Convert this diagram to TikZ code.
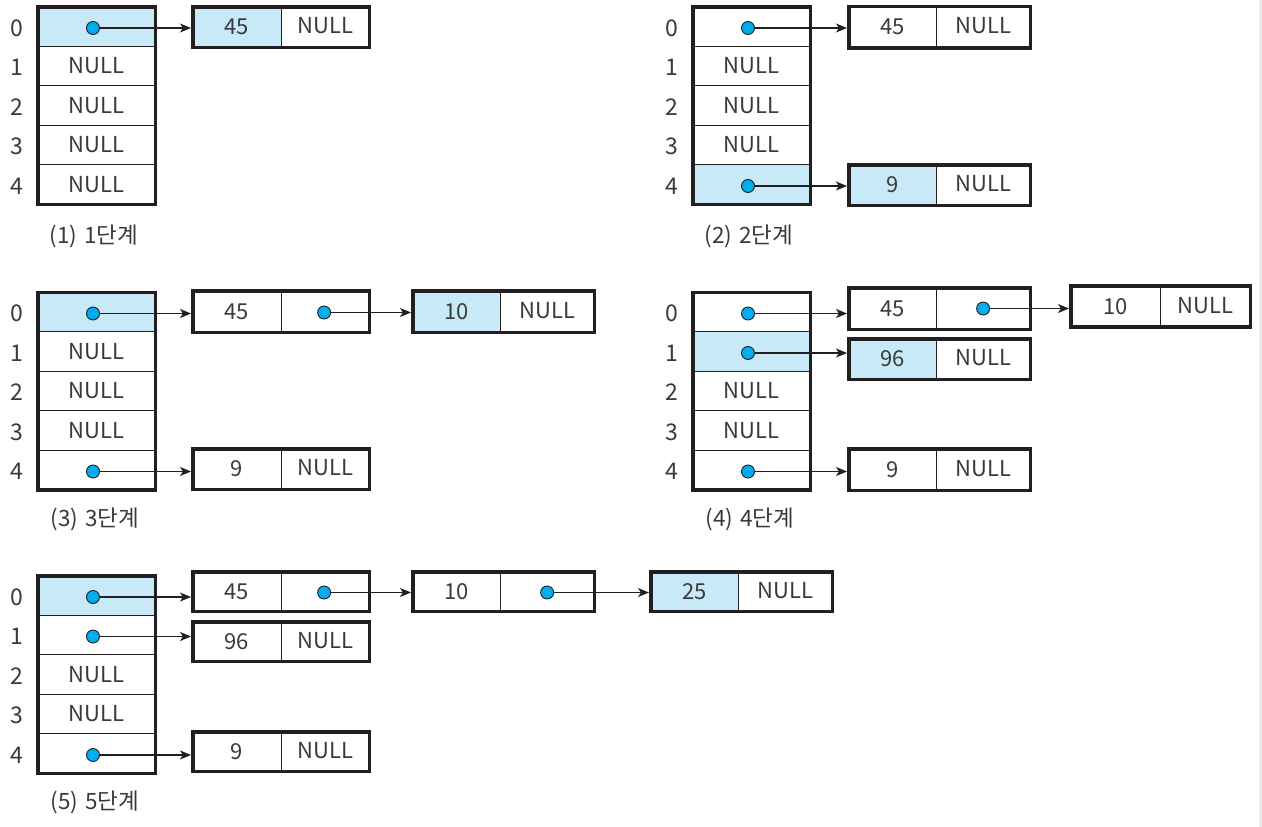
\documentclass[tikz,border=0pt]{standalone}
\usepackage{fontspec}
\setmainfont{Noto Sans CJK KR}
\usetikzlibrary{arrows.meta,fit,calc}

\definecolor{ink}{HTML}{231F20}
\definecolor{txt}{HTML}{3A3A3A}
\definecolor{hl}{HTML}{C8E9F8}
\definecolor{dotc}{HTML}{00AEEF}
\definecolor{edgegray}{HTML}{E9E9EF}

\tikzset{
  every node/.style={text=txt},
  field/.style={rectangle, draw=ink, line width=1pt, inner sep=0pt, outer sep=0pt,
    anchor=north west, font=\fontsize{22}{26}\selectfont},
  cell/.style={field, minimum width=117.5pt, minimum height=39.5pt},
  frame/.style={rectangle, draw=ink, line width=3.5pt, inner sep=0pt},
  hlfill/.style={fill=hl},
  plain/.style={fill=white},
  dot/.style={circle, draw=ink, line width=0.9pt, fill=dotc, minimum size=13pt, inner sep=0pt},
  link/.style={draw=ink, line width=1.1pt, -{Stealth[length=11pt,width=9pt,inset=3pt]}},
  idx/.style={font=\fontsize{23}{26}\selectfont},
  caption/.style={font=\fontsize{22.5}{27}\selectfont},
}

% text of an empty bucket, set a little left of centre
\newcommand\cellnull{NULL\hspace{7pt}}
% NULL in the link field of a list node, set a little high
\newcommand\nullup{\raisebox{2.5pt}{NULL}}
% a bucket holding a pointer (the dot is drawn separately)
\newcommand\ptrslot{}
% caption: step number, then the step word
\newcommand\steplabel[1]{(#1)\hspace{7pt}#1단계}

% bucket array: prefix, left, top, highlighted row, five entries
\newcommand\hashtable[5]{%
  \foreach \t [count=\k from 0] in {#5}{%
    \ifnum\k=#4 \def\cellcolor{hl}\else\def\cellcolor{white}\fi
    \node[cell, fill=\cellcolor] (#1c\k) at (#2+1.75, #3+1.75+39.5*\k) {\t};
    \node[idx] (#1i\k) at ($(#1c\k.west)+(-20.75,1.5)$) {\k};
  }
  \node[frame, fit=(#1c0)(#1c4)] (#1) {};
}

% list node: name, left, top, divider, right, bottom, data, data style, link text
\newcommand\listnode[9]{%
  \node[field, #8, minimum width={#4-#2-1.75}, minimum height={#6-#3-3.5}]
    (#1d) at (#2+1.75, #3+1.75) {#7};
  \node[field, fill=white, minimum width={#5-#4-1.75}, minimum height={#6-#3-3.5}]
    (#1p) at (#1d.north east) {#9};
  \node[frame, fit=(#1d)(#1p)] (#1) {};
}

\begin{document}
\begin{tikzpicture}[x=1pt, y=-1pt]
\useasboundingbox (0,0) rectangle (1262,827);
\fill[white] (0,0) rectangle (1262,827);
\fill[edgegray] (1259,0) rectangle (1262,827);

% ---------- step 1 ----------
\hashtable{a}{36}{5}{0}{\ptrslot,\cellnull,\cellnull,\cellnull,\cellnull}
\listnode{a1}{191}{5}{281}{371}{49}{45}{hlfill}{\nullup}
\node[dot] (a0dot) at ($(ac0.center)+(-3.5,1.5)$) {};
\draw[link] (a0dot) -- (a1.west |- a0dot);
\node[caption] (acap) at (94,236) {\steplabel{1}};

% ---------- step 2 ----------
\hashtable{b}{691}{5}{4}{\ptrslot,\cellnull,\cellnull,\cellnull,\ptrslot}
\listnode{b1}{847}{4.5}{936}{1032}{49.5}{45}{plain}{\nullup}
\listnode{b2}{847}{163}{936}{1032}{207}{9}{hlfill}{\nullup}
\node[dot] (b0dot) at ($(bc0.center)+(-3.5,1.5)$) {};
\node[dot] (b4dot) at ($(bc4.center)+(-3.5,1.5)$) {};
\draw[link] (b0dot) -- (b1.west |- b0dot);
\draw[link] (b4dot) -- (b2.west |- b4dot);
\node[caption] (bcap) at (749,236) {\steplabel{2}};

% ---------- step 3 ----------
\hashtable{c}{36}{290.5}{0}{\ptrslot,\cellnull,\cellnull,\cellnull,\ptrslot}
\listnode{c1}{191}{289}{281}{371}{334}{45}{plain}{}
\listnode{c2}{411}{289}{500}{596}{334}{10}{hlfill}{\nullup}
\listnode{c3}{191}{447}{281}{371}{491}{9}{plain}{\nullup}
\node[dot] (c0dot) at ($(cc0.center)+(-3.5,1.5)$) {};
\node[dot] (c4dot) at ($(cc4.center)+(-3.5,1.5)$) {};
\node[dot] (c1dot) at ($(c1p.center)+(-1,1)$) {};
\draw[link] (c0dot) -- (c1.west |- c0dot);
\draw[link] (c4dot) -- (c3.west |- c4dot);
\draw[link] (c1dot) -- (c2.west |- c1dot);
\node[caption] (ccap) at (95,519) {\steplabel{3}};

% ---------- step 4 ----------
\hashtable{d}{691}{290.5}{1}{\ptrslot,\ptrslot,\cellnull,\cellnull,\ptrslot}
\listnode{d1}{847}{286}{936}{1032}{331}{45}{plain}{}
\listnode{d2}{1069}{284}{1160}{1252}{328.5}{10}{plain}{\nullup}
\listnode{d3}{847}{337}{936}{1032}{381}{96}{hlfill}{\nullup}
\listnode{d4}{847}{447}{936}{1032}{492}{9}{plain}{\nullup}
\node[dot] (d0dot) at ($(dc0.center)+(-3.5,1.5)$) {};
\node[dot] (d1dot) at ($(dc1.center)+(-3.5,1.5)$) {};
\node[dot] (d4dot) at ($(dc4.center)+(-3.5,1.5)$) {};
\node[dot] (d1ndot) at (d1p.center) {};
\draw[link] (d0dot) -- (d1.west |- d0dot);
\draw[link] (d1dot) -- (d3.west |- d1dot);
\draw[link] (d4dot) -- (d4.west |- d4dot);
\draw[link] (d1ndot) -- (d2.west |- d1ndot);
\node[caption] (dcap) at (750,519) {\steplabel{4}};

% ---------- step 5 ----------
\hashtable{e}{36}{574}{0}{\ptrslot,\ptrslot,\cellnull,\cellnull,\ptrslot}
\listnode{e1}{191}{570}{281}{371}{613}{45}{plain}{}
\listnode{e2}{411}{570}{500}{596}{613}{10}{plain}{}
\listnode{e3}{649}{570}{738}{834}{613}{25}{hlfill}{\nullup}
\listnode{e4}{191}{620}{281}{371}{663}{96}{plain}{\nullup}
\listnode{e5}{191}{730}{281}{371}{773}{9}{plain}{\nullup}
\node[dot] (e0dot) at ($(ec0.center)+(-3.5,1.5)$) {};
\node[dot] (e1dot) at ($(ec1.center)+(-3.5,1.5)$) {};
\node[dot] (e4dot) at ($(ec4.center)+(-3.5,1.5)$) {};
\node[dot] (e1ndot) at ($(e1p.center)+(-1,1)$) {};
\node[dot] (e2ndot) at ($(e2p.center)+(0,1)$) {};
\draw[link] (e0dot) -- (e1.west |- e0dot);
\draw[link] (e1dot) -- (e4.west |- e1dot);
\draw[link] (e4dot) -- (e5.west |- e4dot);
\draw[link] (e1ndot) -- (e2.west |- e1ndot);
\draw[link] (e2ndot) -- (e3.west |- e2ndot);
\node[caption] (ecap) at (95,802) {\steplabel{5}};
\end{tikzpicture}
\end{document}
